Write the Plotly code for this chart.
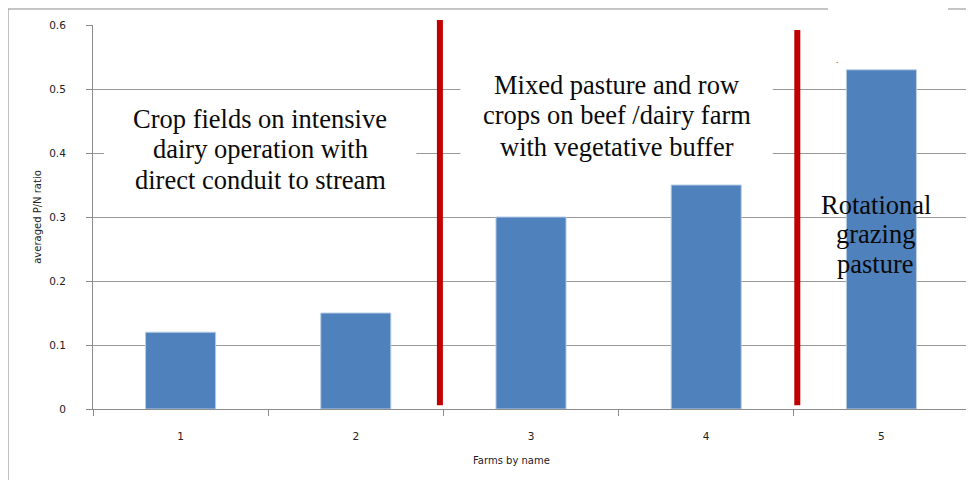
import plotly.graph_objects as go

# ---- data ----
farms = [1, 2, 3, 4, 5]
farm_labels = ["1", "2", "3", "4", "5"]
pn_ratio = [0.12, 0.15, 0.30, 0.35, 0.53]
divider_x = [2.48, 4.52]
divider_bottom = [0.006, 0.006]
divider_top = [0.608, 0.592]
group_lines = [
    ["Crop fields on intensive", "dairy operation with", "direct conduit to stream"],
    ["Mixed pasture and row", "crops on beef /dairy farm", "with vegetative buffer"],
    ["Rotational", "grazing", "pasture"],
]
group_x = [1.454, 3.489, 4.969]
group_line_y = [
    [0.453, 0.406, 0.358],
    [0.506, 0.459, 0.409],
    [0.319, 0.273, 0.227],
]
y_ticks = [0, 0.1, 0.2, 0.3, 0.4, 0.5, 0.6]
y_ticktext = ["0", "0.1", "0.2", "0.3", "0.4", "0.5", "0.6"]
Y_MAX = 0.6

fig = go.Figure()
fig.add_trace(go.Bar(
    x=farms, y=pn_ratio, width=0.4,
    marker=dict(color="#4F81BD", line=dict(color="#B9CDE5", width=1)),
    showlegend=False,
))

shapes = []
# outer chart frame (left and top)
shapes.append(dict(type="line", xref="paper", yref="paper", x0=-0.097, x1=-0.097,
                   y0=-0.3, y1=1.0417, line=dict(color="#8C8C8C", width=1)))
shapes.append(dict(type="line", xref="paper", yref="paper", x0=-0.097, x1=1.1,
                   y0=1.0417, y1=1.0417, line=dict(color="#8C8C8C", width=1)))
# white box in top-right corner
shapes.append(dict(type="rect", xref="paper", yref="paper", x0=0.839, x1=0.976,
                   y0=0.987, y1=1.08, fillcolor="white", line=dict(width=0)))
# white backgrounds of the two text boxes
shapes.append(dict(type="rect", xref="x", yref="y", x0=0.563, x1=2.346, y0=0.319, y1=0.491,
                   fillcolor="white", line=dict(width=0)))
shapes.append(dict(type="rect", xref="x", yref="y", x0=2.597, x1=4.380, y0=0.355, y1=0.558,
                   fillcolor="white", line=dict(width=0)))
# red dividers (paper y so they may rise slightly above the plot top, like the original)
for xv, y0, y1 in zip(divider_x, divider_bottom, divider_top):
    shapes.append(dict(type="line", xref="x", yref="paper", x0=xv, x1=xv,
                       y0=y0 / Y_MAX, y1=y1 / Y_MAX,
                       line=dict(color="#C00000", width=6)))

annotations = []
for lines, xv, ys in zip(group_lines, group_x, group_line_y):
    for t, yv in zip(lines, ys):
        annotations.append(dict(x=xv, y=yv, xref="x", yref="y", text=t, showarrow=False,
                                font=dict(family="Liberation Serif", size=26.5, color="#0a0a0a"),
                                xanchor="center", yanchor="middle"))
annotations.append(dict(x=(840 - 93) / 876, y=(409 - 52) / 384, xref="paper", yref="paper",
                        text=".", showarrow=False, font=dict(size=8, color="black")))
annotations.append(dict(x=0.478, y=-0.133, xref="paper", yref="paper", text="Farms by name",
                        showarrow=False, font=dict(family="DejaVu Sans", size=10, color="#222222"),
                        xanchor="center", yanchor="middle"))

fig.update_layout(
    width=966, height=472,
    margin=dict(l=85, r=5, t=17, b=71),
    paper_bgcolor="white", plot_bgcolor="white",
    shapes=shapes, annotations=annotations,
    xaxis=dict(range=[0.5, 5.5], tickvals=farms, ticktext=farm_labels,
               ticks="outside", ticklen=17, tickcolor="rgba(0,0,0,0)",
               showgrid=False, zeroline=False, showline=True, linecolor="#8C8C8C", linewidth=1,
               tickfont=dict(family="DejaVu Sans", size=10.5, color="#222222"),
               minor=dict(tickvals=[0.5, 1.5, 2.5, 3.5, 4.5, 5.5], ticks="outside", ticklen=6,
                          tickcolor="#8C8C8C", showgrid=False)),
    yaxis=dict(range=[0, Y_MAX], tickvals=y_ticks, ticktext=y_ticktext,
               ticks="outside", ticklen=6, tickcolor="#8C8C8C", ticklabelstandoff=18,
               showgrid=True, gridcolor="#9A9A9A", gridwidth=1, zeroline=False,
               showline=True, linecolor="#8C8C8C", linewidth=1,
               tickfont=dict(family="DejaVu Sans", size=10.5, color="#222222"),
               title=dict(text="averaged P/N ratio", standoff=5,
                          font=dict(family="DejaVu Sans", size=10, color="#222222"))),
)

fig.write_html("out.html")
